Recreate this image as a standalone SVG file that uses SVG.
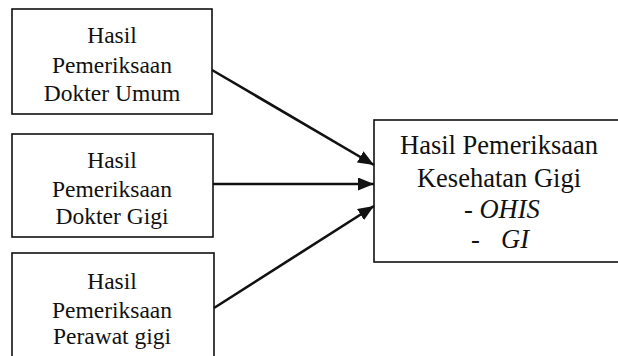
<svg xmlns="http://www.w3.org/2000/svg" width="618" height="356" viewBox="0 0 618 356">
<defs>
<style>
.box{fill:#fff;stroke:#111;stroke-width:1.6}
.t{font-family:"Liberation Serif","Times New Roman",serif;font-size:23.5px;fill:#111;text-anchor:middle}
.tr{font-family:"Liberation Serif","Times New Roman",serif;font-size:26.5px;fill:#111;text-anchor:middle}
.tl{font-family:"Liberation Serif","Times New Roman",serif;font-size:26.5px;fill:#111}
.it{font-style:italic}
.c{stroke:#111;stroke-width:2.6;fill:none}
</style>
<marker id="ah" viewBox="0 0 10 10" refX="10" refY="5" markerWidth="16" markerHeight="13" markerUnits="userSpaceOnUse" orient="auto" preserveAspectRatio="none">
<path d="M0,0 L10,5 L0,10 z" fill="#111"/>
</marker>
</defs>
<rect width="618" height="356" fill="#fff"/>
<g id="node-umum">
<rect class="box" x="12" y="9" width="200" height="105"/>
<text class="t" x="112" y="43">Hasil</text>
<text class="t" x="112" y="73">Pemeriksaan</text>
<text class="t" x="112" y="101">Dokter Umum</text>
</g>
<g id="node-gigi">
<rect class="box" x="12" y="134" width="201" height="103"/>
<text class="t" x="112" y="168">Hasil</text>
<text class="t" x="112" y="197">Pemeriksaan</text>
<text class="t" x="112" y="224">Dokter Gigi</text>
</g>
<g id="node-perawat">
<rect class="box" x="12" y="253" width="202" height="110"/>
<text class="t" x="112" y="289">Hasil</text>
<text class="t" x="112" y="318">Pemeriksaan</text>
<text class="t" x="112" y="344">Perawat gigi</text>
</g>
<g id="node-hasil">
<rect class="box" x="374" y="120" width="250" height="142"/>
<text class="tr" x="499" y="154">Hasil Pemeriksaan</text>
<text class="tr" x="499" y="187">Kesehatan Gigi</text>
<text class="tl" x="464" y="218">- <tspan class="it">OHIS</tspan></text>
<text class="tl" x="471" y="248">-<tspan class="it" x="501">GI</tspan></text>
</g>
<g id="connectors">
<line class="c" x1="212" y1="70" x2="374" y2="165" marker-end="url(#ah)"/>
<line class="c" x1="213" y1="184" x2="374" y2="184" marker-end="url(#ah)"/>
<line class="c" x1="214" y1="308" x2="374" y2="206" marker-end="url(#ah)"/>
</g>
</svg>
